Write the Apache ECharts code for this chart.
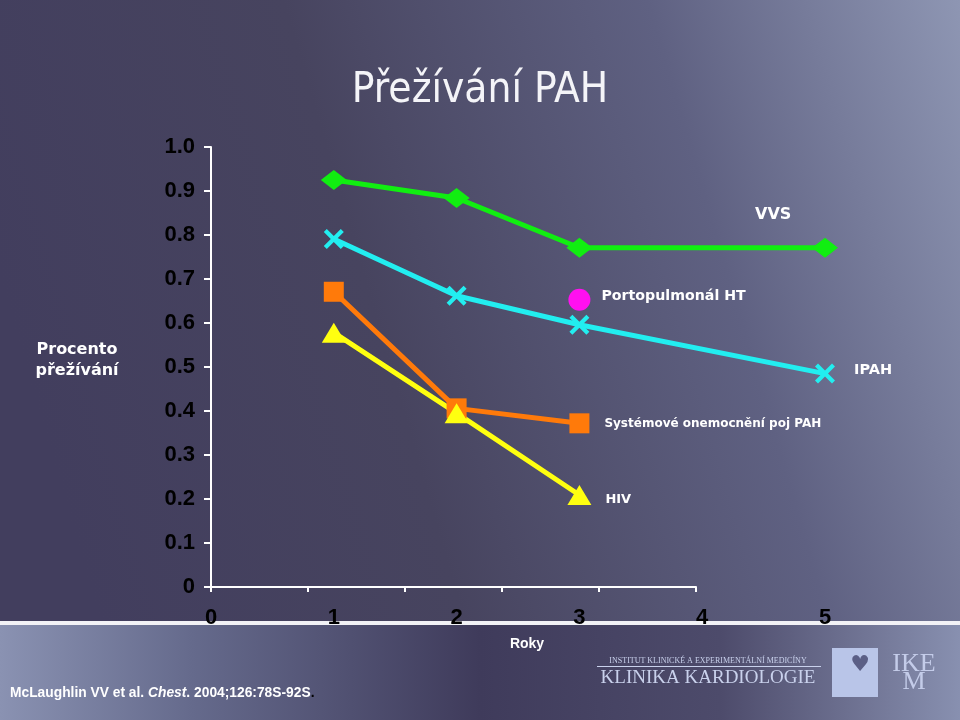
<!DOCTYPE html>
<html>
<head>
<meta charset="utf-8">
<script src="https://cdn.jsdelivr.net/npm/echarts@6/dist/echarts.min.js"></script>
<style>
    html, body { margin: 0; padding: 0; }
    #chart { width: 960px; height: 720px; }
</style>
</head>
<body>
<div id="chart"></div>
<script>
// roky (years) on x, survival share on y
const years = [0, 1, 2, 3, 4, 5]
const yTicks = ['0', '0.1', '0.2', '0.3', '0.4', '0.5', '0.6', '0.7', '0.8', '0.9', '1.0']

const vvsYears = [1, 2, 3, 5]
const vvsValues = [0.925, 0.884, 0.771, 0.771]

const ipahYears = [1, 2, 3, 5]
const ipahValues = [0.791, 0.662, 0.596, 0.485]

const systYears = [1, 2, 3]
const systValues = [0.671, 0.406, 0.372]

const hivYears = [1, 2, 3]
const hivValues = [0.578, 0.395, 0.209]

const portoYears = [3]
const portoValues = [0.653]

const seriesNames = ['VVS', 'IPAH', 'Systémové onemocnění poj PAH', 'HIV', 'Portopulmonál HT']

const crossPath = 'path://M0,1.5L1.5,0L5,3.5L8.5,0L10,1.5L6.5,5L10,8.5L8.5,10L5,6.5L1.5,10L0,8.5L3.5,5Z'

function pairs(xs, ys) {
    return xs.map((x, i) => [x, ys[i]])
}

// put the series name next to its last point
function withEndTag(data, name, offset, size) {
    let last = data.length - 1
    return data.map((d, i) => i === last ? {
        value: d,
        label: {
            show: true, position: 'right', formatter: name, offset: offset,
            color: '#ffffff', fontFamily: 'DejaVu Sans', fontWeight: 'bold', fontSize: size
        }
    } : d)
}

let chart = echarts.init(document.getElementById('chart'))

let option = {
    animation: false,
    backgroundColor: '#4a4766',
    graphic: [
        {
            type: 'rect', z: -10, silent: true,
            shape: {x: 0, y: 0, width: 960, height: 622},
            style: {
                fill: new echarts.graphic.LinearGradient(0, 0.45, 1, 0, [
                    {offset: 0, color: '#423e5e'},
                    {offset: 0.35, color: '#47445f'},
                    {offset: 0.7, color: '#5f6182'},
                    {offset: 1, color: '#8e96b3'}
                ])
            }
        },
        {
            type: 'rect', z: -10, silent: true,
            shape: {x: 0, y: 625, width: 960, height: 95},
            style: {
                fill: new echarts.graphic.LinearGradient(0, 0, 1, 0, [
                    {offset: 0, color: '#8a92b2'},
                    {offset: 0.2, color: '#656a8c'},
                    {offset: 0.5, color: '#3f3b5b'},
                    {offset: 0.75, color: '#4d4b6b'},
                    {offset: 1, color: '#8890b0'}
                ])
            }
        },
        {
            type: 'rect', z: -5, silent: true,
            shape: {x: 0, y: 621, width: 960, height: 4},
            style: {fill: '#f2f2f6'}
        },
        {
            type: 'text', x: 480, y: 91,
            style: {
                text: 'Přežívání PAH',
                fill: '#f4f4f8',
                align: 'center',
                verticalAlign: 'middle',
                font: '42px "DejaVu Sans Condensed", "DejaVu Sans", sans-serif'
            }
        },
        {
            type: 'text', x: 77, y: 360,
            style: {
                text: 'Procento\npřežívání',
                fill: '#ffffff',
                align: 'center',
                verticalAlign: 'middle',
                lineHeight: 21,
                font: 'bold 16px "DejaVu Sans", sans-serif'
            }
        },
        {
            type: 'text', x: 527, y: 644,
            style: {
                text: 'Roky',
                fill: '#ffffff',
                align: 'center',
                verticalAlign: 'middle',
                font: 'bold 14px "Liberation Sans", Arial, sans-serif'
            }
        },
        {
            type: 'text', x: 10, y: 693, scaleX: 0.92,
            style: {
                text: '{n|McLaughlin VV et al. }{i|Chest}{n|. 2004;126:78S-92S}{d|.}',
                verticalAlign: 'middle',
                rich: {
                    n: {fill: '#ffffff', font: 'bold 15px "Liberation Sans", sans-serif'},
                    i: {fill: '#ffffff', font: 'italic bold 15px "Liberation Sans", sans-serif'},
                    d: {fill: '#000000', font: 'bold 15px "Liberation Sans", sans-serif'}
                }
            }
        },
        // logo
        {
            type: 'text', x: 708, y: 661,
            style: {
                text: 'INSTITUT KLINICKÉ A EXPERIMENTÁLNÍ MEDICÍNY',
                fill: '#c9d1ec',
                align: 'center',
                verticalAlign: 'middle',
                font: '8px "Liberation Serif", serif'
            }
        },
        {
            type: 'rect', silent: true,
            shape: {x: 597, y: 666, width: 224, height: 1},
            style: {fill: '#c9d1ec'}
        },
        {
            type: 'text', x: 708, y: 678,
            style: {
                text: 'KLINIKA KARDIOLOGIE',
                fill: '#c9d1ec',
                align: 'center',
                verticalAlign: 'middle',
                font: '19px "Liberation Serif", serif'
            }
        },
        {
            type: 'rect', silent: true,
            shape: {x: 832, y: 648, width: 46, height: 49},
            style: {fill: '#b9c5e8'}
        },
        {
            type: 'text', x: 860, y: 665,
            style: {
                text: '♥',
                fill: '#5b5f86',
                align: 'center',
                verticalAlign: 'middle',
                font: '22px "DejaVu Sans", sans-serif'
            }
        },
        {
            type: 'text', x: 914, y: 673,
            style: {
                text: 'IKE\nM',
                fill: '#c4cce9',
                align: 'center',
                verticalAlign: 'middle',
                lineHeight: 18,
                font: '26px "Liberation Serif", serif'
            }
        }
    ],
    grid: [
        {left: 211, right: 264, top: 147, bottom: 133},
        {left: 211, right: 135, top: 147, bottom: 133}
    ],
    xAxis: [
        {
            type: 'value', gridIndex: 0, min: 0, max: 5, interval: 1,
            axisLine: {show: true, lineStyle: {color: '#ffffff', width: 2}},
            axisTick: {show: true, length: 5, lineStyle: {color: '#ffffff', width: 2}},
            axisLabel: {show: false},
            splitLine: {show: false}
        },
        {
            type: 'value', gridIndex: 1, min: 0, max: 5, interval: 1,
            axisLine: {show: false},
            axisTick: {show: false},
            splitLine: {show: false},
            axisLabel: {
                margin: 20,
                color: '#000000',
                fontFamily: 'Liberation Sans',
                fontWeight: 'bold',
                fontSize: 22,
                formatter: v => String(years[v])
            }
        }
    ],
    yAxis: [
        {
            type: 'value', gridIndex: 0, min: 0, max: 1, interval: 0.1,
            axisLine: {show: true, lineStyle: {color: '#ffffff', width: 2}},
            axisTick: {show: true, length: 7, lineStyle: {color: '#ffffff', width: 2}},
            splitLine: {show: false},
            axisLabel: {
                margin: 16,
                color: '#000000',
                fontFamily: 'Liberation Sans',
                fontWeight: 'bold',
                fontSize: 22,
                formatter: v => yTicks[Math.round(v * 10)]
            }
        },
        {
            type: 'value', gridIndex: 1, min: 0, max: 1,
            show: false
        }
    ],
    series: [
        {
            name: seriesNames[0], type: 'line', xAxisIndex: 1, yAxisIndex: 1,
            data: withEndTag(pairs(vvsYears, vvsValues), seriesNames[0], [-88, -33], 16),
            symbol: 'diamond', symbolSize: [26, 20],
            itemStyle: {color: '#11ee11'},
            lineStyle: {color: '#11ee11', width: 5}
        },
        {
            name: seriesNames[1], type: 'line', xAxisIndex: 1, yAxisIndex: 1,
            data: withEndTag(pairs(ipahYears, ipahValues), seriesNames[1], [14, -3], 14.5),
            symbol: crossPath, symbolSize: 20,
            itemStyle: {color: '#22eef0'},
            lineStyle: {color: '#22eef0', width: 5}
        },
        {
            name: seriesNames[2], type: 'line', xAxisIndex: 1, yAxisIndex: 1,
            data: withEndTag(pairs(systYears, systValues), seriesNames[2], [10, 1], 12),
            symbol: 'rect', symbolSize: 20,
            itemStyle: {color: '#ff7a0a'},
            lineStyle: {color: '#ff7a0a', width: 5}
        },
        {
            name: seriesNames[3], type: 'line', xAxisIndex: 1, yAxisIndex: 1,
            data: withEndTag(pairs(hivYears, hivValues), seriesNames[3], [9, 5], 13),
            symbol: 'triangle', symbolSize: [24, 20],
            itemStyle: {color: '#ffff10'},
            lineStyle: {color: '#ffff10', width: 5}
        },
        {
            name: seriesNames[4], type: 'line', xAxisIndex: 1, yAxisIndex: 1,
            data: withEndTag(pairs(portoYears, portoValues), seriesNames[4], [6, -3], 14.2),
            symbol: 'circle', symbolSize: 22,
            itemStyle: {color: '#ff10f0'},
            lineStyle: {width: 0}
        }
    ]
}

chart.setOption(option)
</script>
</body>
</html>
